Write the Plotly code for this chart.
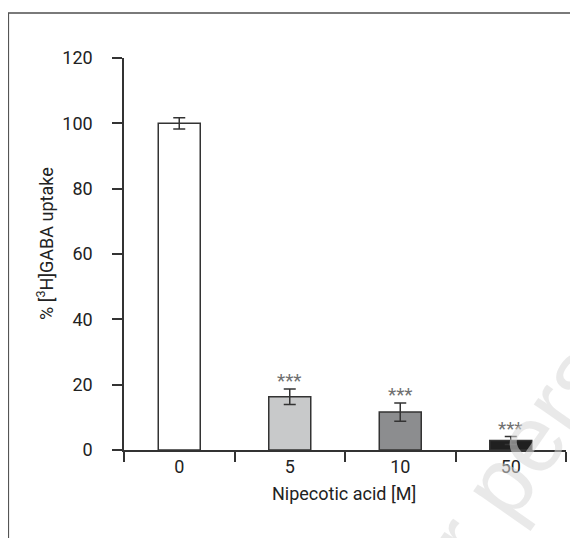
import plotly.graph_objects as go

categories = ["0", "5", "10", "50"]
uptake = [100.0, 16.3, 11.6, 2.9]
sem = [1.7, 2.4, 2.8, 1.2]
significance = ["", "***", "***", "***"]
bar_colors = ["#ffffff", "#c8c9ca", "#8c8d8f", "#202020"]
y_ticks = [0, 20, 40, 60, 80, 100, 120]

FONT = "Roboto, Liberation Sans, Arial, sans-serif"

# page offset (default body margin of the html page)
OFF = 8
W, H = 578 - OFF, 538 - OFF
L, R, T, B = 124 - OFF, 578 - 566, 58 - OFF, 538 - 450
pw, ph = W - L - R, H - T - B


def px_x(x):
    return (x - OFF - L) / pw


def px_y(y):
    return (H - B - (y - OFF)) / ph


def fnt(size, color="#222222", family=FONT):
    return dict(family=family, size=size, color=color)


fig = go.Figure()
fig.add_trace(go.Bar(
    x=categories, y=uptake, width=0.38,
    marker=dict(color=bar_colors, line=dict(color="#333333", width=1.5)),
    error_y=dict(type="data", array=sem, visible=True, color="#333333",
                 thickness=1.5, width=6),
    showlegend=False,
))

annotations = []
for i, (v, e, s) in enumerate(zip(uptake, sem, significance)):
    if s:
        annotations.append(dict(x=i, y=v + e, xref="x", yref="y", text=s,
                                showarrow=False, yanchor="bottom", yshift=-5,
                                font=fnt(19, "#707070")))

annotations.append(dict(x=px_x(45), y=px_y(244), xref="paper", yref="paper",
                        text="% [<sup>3</sup>H]GABA uptake", textangle=-90,
                        showarrow=False, xanchor="center", yanchor="middle",
                        font=fnt(18)))
annotations.append(dict(x=px_x(344), y=px_y(493), xref="paper", yref="paper",
                        text="Nipecotic acid [M]",
                        showarrow=False, xanchor="center", yanchor="middle",
                        font=fnt(18)))
annotations.append(dict(x=px_x(600), y=px_y(340), xref="paper", yref="paper",
                        text="for personal use", textangle=-55,
                        showarrow=False, xanchor="center", yanchor="middle",
                        font=dict(family="Liberation Sans, Arial, sans-serif", size=95,
                                  color="rgba(215,215,215,0.55)")))

shapes = [
    dict(type="line", xref="paper", yref="paper", x0=px_x(8), x1=px_x(580),
         y0=px_y(13), y1=px_y(13), line=dict(color="#7a7a7a", width=2)),
    dict(type="line", xref="paper", yref="paper", x0=px_x(8.5), x1=px_x(8.5),
         y0=px_y(13), y1=px_y(540), line=dict(color="#555555", width=1.2)),
]

fig.update_layout(
    width=W, height=H,
    margin=dict(l=L, r=R, t=T, b=B, autoexpand=False),
    paper_bgcolor="white", plot_bgcolor="white",
    font=fnt(16),
    annotations=annotations, shapes=shapes,
    xaxis=dict(type="category", range=[-0.5, 3.5], showline=True, automargin=False,
               linecolor="#333333", linewidth=1.5, ticks="outside",
               tickson="boundaries", ticklen=10, tickwidth=1.5, tickcolor="#333333",
               tickfont=fnt(18),
               showgrid=False, zeroline=False),
    yaxis=dict(range=[0, 120], tickvals=y_ticks, showline=True, automargin=False,
               linecolor="#333333", linewidth=1.5, ticks="outside",
               ticklen=10, tickwidth=1.5, tickcolor="#333333",
               ticklabelstandoff=16,
               tickfont=fnt(18),
               showgrid=False, zeroline=False),
)

fig.write_html("out.html")
